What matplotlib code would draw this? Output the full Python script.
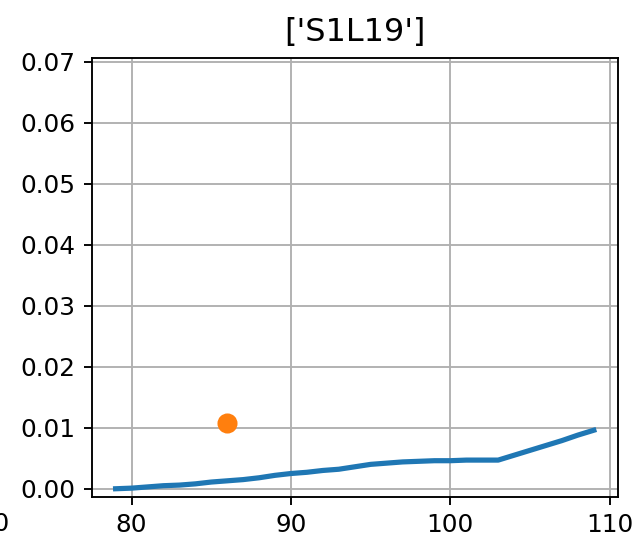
#!/usr/bin/env python
# -*- coding: utf-8 -*-

import matplotlib
matplotlib.use('Agg')
import matplotlib.pyplot as plt

# -- data
station = ['S1L19']
x_vals = list(range(79, 110))
y_vals = [0.0000, 0.0001, 0.0003, 0.0005, 0.0006, 0.0008, 0.0011, 0.0013,
          0.0015, 0.0018, 0.0022, 0.0025, 0.0027, 0.0030, 0.0032, 0.0036,
          0.0040, 0.0042, 0.0044, 0.0045, 0.0046, 0.0046, 0.0047, 0.0047,
          0.0047, 0.0055, 0.0063, 0.0071, 0.0079, 0.0088, 0.0096]
obs_x = [86]
obs_y = [0.0108]

dpi = 170
fig = plt.figure(figsize=(643 / dpi, 547 / dpi), dpi=dpi)
ax = fig.add_axes([0.1426, 0.0920, 0.9607 - 0.1426, 0.8945 - 0.0920])

ax.plot(x_vals, y_vals, color='C0', linewidth=2.2)
ax.plot(obs_x, obs_y, 'o', color='C1', markersize=7.5)

ax.set_title(str(station), fontsize=13.5, pad=7)
ax.set_ylim(-0.0013, 0.0707)
ax.set_yticks([0.0, 0.01, 0.02, 0.03, 0.04, 0.05, 0.06, 0.07])
ax.set_xticks([80, 90, 100, 110])
ax.tick_params(labelsize=10.5)
ax.grid()

# -- leftover tick label of the neighbouring panel
fig.text(-14.5 / 643, 1 - 512.0 / 547, '110', ha='center', va='top',
         fontsize=10.5)

plt.savefig('out.png', dpi=dpi)
plt.close()
